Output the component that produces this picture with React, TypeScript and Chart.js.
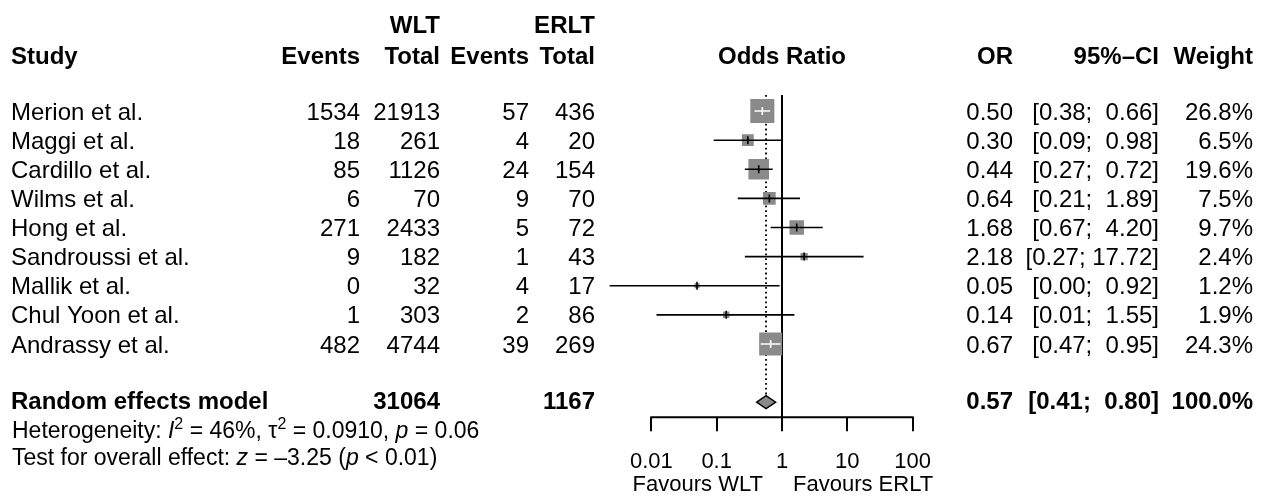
import React, { useEffect, useRef } from "react";
import { Chart, registerables } from "chart.js";

Chart.register(...registerables);

// ---------------- data ----------------
const studies = [
  "Merion et al.",
  "Maggi et al.",
  "Cardillo et al.",
  "Wilms et al.",
  "Hong et al.",
  "Sandroussi et al.",
  "Mallik et al.",
  "Chul Yoon et al.",
  "Andrassy et al.",
];
const wltEvents = [1534, 18, 85, 6, 271, 9, 0, 1, 482];
const wltTotal = [21913, 261, 1126, 70, 2433, 182, 32, 303, 4744];
const erltEvents = [57, 4, 24, 9, 5, 1, 4, 2, 39];
const erltTotal = [436, 20, 154, 70, 72, 43, 17, 86, 269];
const oddsRatios = [0.5, 0.3, 0.44, 0.64, 1.68, 2.18, 0.05, 0.14, 0.67];
const ciLower = [0.38, 0.09, 0.27, 0.21, 0.67, 0.27, 0.0023, 0.012, 0.47];
const ciUpper = [0.66, 0.98, 0.72, 1.89, 4.2, 17.72, 0.92, 1.55, 0.95];
const weights = [26.8, 6.5, 19.6, 7.5, 9.7, 2.4, 1.2, 1.9, 24.3];

const pooledLabel = "Random effects model";
const pooledWltTotal = 31064;
const pooledErltTotal = 1167;
const pooledOR = 0.57;
const pooledLower = 0.41;
const pooledUpper = 0.8;
const pooledWeight = "100.0%";

const axisTicks = [0.01, 0.1, 1, 10, 100];
const favoursLeft = "Favours WLT";
const favoursRight = "Favours ERLT";

type Seg = { t: string; i?: boolean; sup?: boolean };
const heterogeneityText: Seg[] = [
  { t: "Heterogeneity: " },
  { t: "I", i: true },
  { t: "2", sup: true },
  { t: " = 46%, " },
  { t: "\u03C4" },
  { t: "2", sup: true },
  { t: " = 0.0910, " },
  { t: "p", i: true },
  { t: " = 0.06" },
];
const overallText: Seg[] = [
  { t: "Test for overall effect: " },
  { t: "z", i: true },
  { t: " = \u20133.25 (" },
  { t: "p", i: true },
  { t: " < 0.01)" },
];

// ---------------- style ----------------
const FONT = '"Liberation Sans", Arial, Helvetica, sans-serif';
const FS = 24;
const FS_NOTE = 23;
const FS_AXIS = 22;
const SQUARE_COLOR = "#8a8a8a";
const SQUARE_K = 4.65; // side in px per sqrt(weight %)
const DIAMOND_HALF = 6.5;

const fmt2 = (v: number) => v.toFixed(2);
const ciText = (lo: number, hi: number) =>
  "[" + fmt2(lo) + "; " + fmt2(hi).padStart(5, " ") + "]";

function drawRich(ctx: CanvasRenderingContext2D, segs: Seg[], x: number, baseline: number, size: number) {
  let cx = x;
  ctx.textAlign = "left";
  for (const s of segs) {
    const fs = s.sup ? Math.round(size * 0.68) : size;
    ctx.font = `${s.i ? "italic " : ""}${fs}px ${FONT}`;
    const yy = s.sup ? baseline - size * 0.4 : baseline;
    ctx.fillText(s.t, cx, yy);
    cx += ctx.measureText(s.t).width;
  }
}

const forestPlugin = {
  id: "forestPlugin",
  beforeDatasetsDraw(chart: any) {
    const { ctx, chartArea } = chart;
    const x = chart.scales.x;
    const y = chart.scales.y;
    ctx.save();
    // line of no effect
    const x1 = x.getPixelForValue(1);
    ctx.strokeStyle = "#000";
    ctx.lineWidth = 2;
    ctx.beginPath();
    ctx.moveTo(x1, chartArea.top);
    ctx.lineTo(x1, chartArea.bottom);
    ctx.stroke();
    // pooled estimate dotted line
    const xp = x.getPixelForValue(pooledOR);
    ctx.lineWidth = 1.8;
    ctx.setLineDash([1.8, 3]);
    ctx.beginPath();
    ctx.moveTo(xp, chartArea.top);
    ctx.lineTo(xp, y.getPixelForValue(11) - DIAMOND_HALF);
    ctx.stroke();
    ctx.restore();
  },
  afterDatasetsDraw(chart: any) {
    const { ctx, chartArea } = chart;
    const x = chart.scales.x;
    const y = chart.scales.y;
    ctx.save();
    ctx.lineWidth = 1.6;
    oddsRatios.forEach((or, i) => {
      const yy = y.getPixelForValue(i + 1);
      const xc = x.getPixelForValue(or);
      const xl = x.getPixelForValue(ciLower[i]);
      const xh = x.getPixelForValue(ciUpper[i]);
      const half = (SQUARE_K * Math.sqrt(weights[i])) / 2;
      const inside = xl >= xc - half && xh <= xc + half;
      ctx.strokeStyle = inside ? "#fff" : "#000";
      ctx.beginPath();
      ctx.moveTo(xl, yy);
      ctx.lineTo(xh, yy);
      ctx.moveTo(xc, yy - 4);
      ctx.lineTo(xc, yy + 4);
      ctx.stroke();
    });
    // diamond
    const yd = y.getPixelForValue(11);
    const xdl = x.getPixelForValue(pooledLower);
    const xdh = x.getPixelForValue(pooledUpper);
    const xdc = x.getPixelForValue(pooledOR);
    ctx.beginPath();
    ctx.moveTo(xdl, yd);
    ctx.lineTo(xdc, yd - DIAMOND_HALF);
    ctx.lineTo(xdh, yd);
    ctx.lineTo(xdc, yd + DIAMOND_HALF);
    ctx.closePath();
    ctx.fillStyle = SQUARE_COLOR;
    ctx.fill();
    ctx.strokeStyle = "#000";
    ctx.lineWidth = 1.4;
    ctx.stroke();
    // axis line
    ctx.lineWidth = 2;
    ctx.beginPath();
    ctx.moveTo(x.getPixelForValue(axisTicks[0]) - 1, chartArea.bottom);
    ctx.lineTo(x.getPixelForValue(axisTicks[axisTicks.length - 1]) + 1, chartArea.bottom);
    ctx.stroke();
    ctx.restore();
  },
  afterDraw(chart: any) {
    const { ctx, chartArea } = chart;
    const x = chart.scales.x;
    const y = chart.scales.y;
    const base = (v: number) => y.getPixelForValue(v) + 8.6;
    const row1 = y.getPixelForValue(1);
    ctx.save();
    ctx.fillStyle = "#000";
    ctx.textBaseline = "alphabetic";
    const text = (s: string, px: number, py: number, align: CanvasTextAlign, bold = false, size = FS) => {
      ctx.font = `${bold ? "bold " : ""}${size}px ${FONT}`;
      ctx.textAlign = align;
      ctx.fillText(s, px, py);
    };
    // columns (left edge for study, right edges for the rest)
    const cStudy = 11;
    const cWE = 360;
    const cWT = 440;
    const cEE = 529;
    const cET = 595;
    const cOR = 1013;
    const cCI = 1159;
    const cW = 1253;
    const xNull = x.getPixelForValue(1);

    // headers
    const h1 = row1 - 87 + 8.6;
    const h2 = row1 - 56 + 8.6;
    text("WLT", cWT, h1, "right", true);
    text("ERLT", cET, h1, "right", true);
    text("Study", cStudy, h2, "left", true);
    text("Events", cWE, h2, "right", true);
    text("Total", cWT, h2, "right", true);
    text("Events", cEE, h2, "right", true);
    text("Total", cET, h2, "right", true);
    text("Odds Ratio", xNull, h2, "center", true);
    text("OR", cOR, h2, "right", true);
    text("95%\u2013CI", cCI, h2, "right", true);
    text("Weight", cW, h2, "right", true);

    // study rows
    studies.forEach((s, i) => {
      const b = base(i + 1);
      text(s, cStudy, b, "left");
      text(String(wltEvents[i]), cWE, b, "right");
      text(String(wltTotal[i]), cWT, b, "right");
      text(String(erltEvents[i]), cEE, b, "right");
      text(String(erltTotal[i]), cET, b, "right");
      text(fmt2(oddsRatios[i]), cOR, b, "right");
      text(ciText(ciLower[i], ciUpper[i]), cCI, b, "right");
      text(weights[i].toFixed(1) + "%", cW, b, "right");
    });

    // pooled row
    const bp = base(10.95);
    text(pooledLabel, cStudy, bp, "left", true);
    text(String(pooledWltTotal), cWT, bp, "right", true);
    text(String(pooledErltTotal), cET, bp, "right", true);
    text(fmt2(pooledOR), cOR, bp, "right", true);
    text(ciText(pooledLower, pooledUpper), cCI, bp, "right", true);
    text(pooledWeight, cW, bp, "right", true);

    // heterogeneity & overall effect
    drawRich(ctx, heterogeneityText, 12, base(11.93), FS_NOTE);
    drawRich(ctx, overallText, 12, base(12.86), FS_NOTE);

    // favours labels
    const fy = chartArea.bottom + 66 + 8;
    text(favoursLeft, xNull - 19, fy, "right", false, FS_AXIS);
    text(favoursRight, xNull + 11, fy, "left", false, FS_AXIS);
    ctx.restore();
  },
};

export default function App() {
  const ref = useRef<HTMLCanvasElement>(null);
  useEffect(() => {
    if (!ref.current) return;
    const chart = new Chart(ref.current, {
      type: "scatter",
      data: {
        datasets: [
          {
            label: "Studies",
            data: oddsRatios.map((v, i) => ({ x: v, y: i + 1 })),
            pointStyle: "rect",
            pointRadius: weights.map((w) => (SQUARE_K * Math.sqrt(w)) / Math.SQRT2),
            pointBackgroundColor: SQUARE_COLOR,
            pointBorderWidth: 0,
            pointBorderColor: SQUARE_COLOR,
          } as any,
        ],
      },
      options: {
        responsive: false,
        animation: false,
        events: [],
        layout: { padding: { left: 586, right: 285, top: 95, bottom: 6.4 } },
        plugins: {
          legend: { display: false },
          tooltip: { enabled: false },
        },
        scales: {
          x: {
            type: "logarithmic",
            min: 0.001,
            max: 1000,
            afterBuildTicks: (axis: any) => {
              axis.ticks = axisTicks.map((v) => ({ value: v }));
            },
            ticks: {
              callback: (v: any) => String(v),
              color: "#000",
              font: { family: FONT, size: FS_AXIS },
              padding: 18,
              maxRotation: 0,
              autoSkip: false,
            },
            grid: {
              drawOnChartArea: false,
              drawTicks: true,
              tickLength: 14,
              color: "#000",
              lineWidth: 2,
            },
            border: { display: false },
          },
          y: {
            type: "linear",
            display: false,
            reverse: true,
            min: 0.448,
            max: 11.517,
          },
        },
      } as any,
      plugins: [forestPlugin],
    });
    return () => chart.destroy();
  }, []);
  return (
    <div style={{ position: "absolute", left: 0, top: 0, width: 1263, height: 500, background: "#fff" }}>
      <canvas ref={ref} width={1263} height={500} style={{ display: "block", width: 1263, height: 500 }} />
    </div>
  );
}
